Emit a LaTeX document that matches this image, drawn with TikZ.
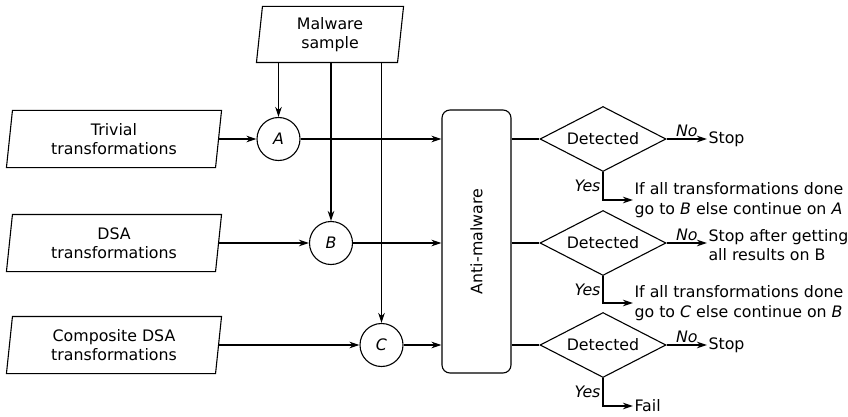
\documentclass[tikz,border=0pt]{standalone}
\usepackage{fontspec}
\setmainfont{DejaVu Sans}
\usetikzlibrary{shapes.geometric,arrows.meta}
\newcommand\slantframe[1]{\draw ([xshift=3pt]#1.north west) -- ([xshift=3pt]#1.north east) -- ([xshift=-3pt]#1.south east) -- ([xshift=-3pt]#1.south west) -- cycle;}
\begin{document}
\begin{tikzpicture}[x=1pt,y=-1pt, line width=1.1pt,
  every node/.style={font=\fontsize{15.8}{19.5}\selectfont},
  lbl/.style={font=\fontsize{15.8}{19.5}\selectfont\itshape},
  inbox/.style={rectangle, minimum width=208, minimum height=56, align=center, inner sep=0},
  joinpt/.style={circle, draw, minimum size=43, inner sep=0, font=\fontsize{15.8}{19.5}\selectfont\itshape},
  decide/.style={diamond, draw, shape aspect=2, minimum width=126, minimum height=65, inner sep=0},
  outtext/.style={anchor=west, align=left, inner sep=1pt},
  arr/.style={-{Stealth[length=10pt,width=6.5pt,inset=3pt]}}]
\useasboundingbox (0,0) rectangle (848,417);
% inputs
\node[inbox, minimum width=140, minimum height=55] (ms) at (330,34.5) {Malware\\sample};
\slantframe{ms}
\node[inbox] (triv) at (114,139) {Trivial\\transformations};
\slantframe{triv}
\node[inbox] (dsa) at (114,243) {DSA\\transformations};
\slantframe{dsa}
\node[inbox] (comp) at (114,345) {Composite DSA\\transformations};
\slantframe{comp}
% joins
\node[joinpt] (A) at (278.5,139) {A};
\node[joinpt] (B) at (331,243) {B};
\node[joinpt] (C) at (381.5,345) {C};
% anti-malware
\node[draw, rounded corners=8pt, minimum width=69, minimum height=263, inner sep=0] (am) at (476.5,241.5) {\rotatebox{90}{Anti-malware}};
% decisions
\node[decide] (d1) at (603,139) {Detected};
\node[decide] (d2) at (603,243) {Detected};
\node[decide] (d3) at (603,345) {Detected};
% outcomes
\node[outtext] (s1) at (707,139) {Stop};
\node[outtext] (s2) at (707,245) {Stop after getting\\all results on B};
\node[outtext] (s3) at (707,345) {Stop};
\node[outtext] (y1) at (633,200) {If all transformations done\\go to \textit{B} else continue on \textit{A}};
\node[outtext] (y2) at (633,303) {If all transformations done\\go to \textit{C} else continue on \textit{B}};
\node[outtext] (y3) at (633,406) {Fail};
% connectors
\draw[arr] (triv.east) -- (A.west);
\draw[arr] (dsa.east) -- (B.west);
\draw[arr] (comp.east) -- (C.west);
\draw[arr] (ms.south -| A) -- (A.north);
\draw[arr] (ms.south -| B) -- (B.north);
\draw[arr] (ms.south -| C) -- (C.north);
\draw[arr] (A.east) -- (A.east -| am.west);
\draw[arr] (B.east) -- (B.east -| am.west);
\draw[arr] (C.east) -- (C.east -| am.west);
\draw (am.east |- d1.west) -- (d1.west);
\draw (am.east |- d2.west) -- (d2.west);
\draw (am.east |- d3.west) -- (d3.west);
\draw[arr] (d1.east) -- node[above, inner sep=1.5pt, lbl] {No} (s1.west);
\draw[arr] (d2.east) -- node[above, inner sep=1.5pt, lbl] {No} (d2.east -| s2.west);
\draw[arr] (d3.east) -- node[above, inner sep=1.5pt, lbl] {No} (s3.west);
\draw[arr] (d1.south) |- node[left, pos=0.25, inner sep=2pt, lbl] {Yes} (y1.west);
\draw[arr] (d2.south) |- node[left, pos=0.25, inner sep=2pt, lbl] {Yes} (y2.west);
\draw[arr] (d3.south) |- node[left, pos=0.25, inner sep=2pt, lbl] {Yes} (y3.west);
\end{tikzpicture}
\end{document}
